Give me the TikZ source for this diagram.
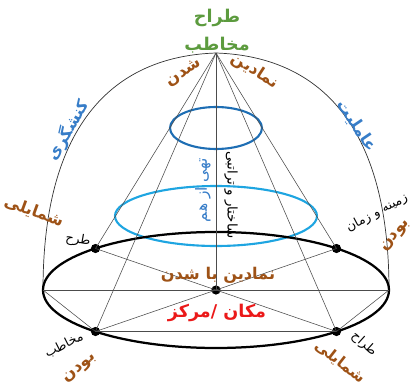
\documentclass[tikz,border=0pt]{standalone}
\usepackage{fontspec}
\usepackage{xcolor}
\usepackage{tikz}
\usetikzlibrary{positioning}
\TeXXeTstate=1
\newfontfamily\farsi[Script=Arabic]{DejaVu Sans}
\definecolor{titlegreen}{RGB}{92,155,62}
\definecolor{rimbrown}{RGB}{158,82,22}
\definecolor{sideblue}{RGB}{55,125,200}
\definecolor{ringdark}{RGB}{30,110,180}
\definecolor{ringlight}{RGB}{30,165,225}
\definecolor{placered}{RGB}{235,25,25}
\tikzstyle{ray} = [draw=black!70, line width=0.4pt]
\tikzstyle{rim} = [draw=black!80, line width=0.5pt]
\tikzstyle{ring} = [line width=1.5pt]
\tikzstyle{base} = [draw=black, line width=1.6pt]
\tikzstyle{dot} = [circle, fill=black, inner sep=0pt, minimum size=2.3mm]
\tikzstyle{bigword} = [inner sep=0pt, font=\farsi\bfseries\fontsize{11.5}{13}\selectfont]
\tikzstyle{smallword} = [inner sep=0pt, text=black, font=\farsi\fontsize{9}{10}\selectfont]

\begin{document}
\begin{tikzpicture}[x=0.025cm, y=-0.025cm]
\useasboundingbox (0,0) rectangle (417,389);

% Apex and rim of the base
\coordinate (apex) at (216,53);
\coordinate (west) at (43,290);
\coordinate (east) at (389,290);

% Dome
\draw [rim] (west) .. controls (43,112) and (124,56) .. (apex) .. controls (308,56) and (389,112) .. (east);

% Rings
\draw [ring, draw=ringdark] (216,128) ellipse [x radius=46, y radius=21];
\draw [ring, draw=ringlight] (216,216) ellipse [x radius=101, y radius=30];
\draw [base] (216,290) ellipse [x radius=173, y radius=58];

% Points on the base
\node (hub) [dot] at (216,290) {};
\node (nw) [dot] at (95.5,248.5) {};
\node (ne) [dot] at (336.5,248.5) {};
\node (sw) [dot] at (95.5,331.5) {};
\node (se) [dot] at (336.5,331.5) {};

% Rays
\draw [ray] (apex) -- (hub.center);
\draw [ray] (apex) -- (nw.center);
\draw [ray] (apex) -- (ne.center);
\draw [ray] (apex) -- (sw.center);
\draw [ray] (apex) -- (se.center);
\draw [ray] (west) -- (hub.center);
\draw [ray] (east) -- (hub.center);
\draw [ray] (west) -- (sw.center);
\draw [ray] (east) -- (se.center);
\draw [ray] (nw.center) -- (hub.center);
\draw [ray] (ne.center) -- (hub.center);
\draw [ray] (sw.center) -- (hub.center);
\draw [ray] (se.center) -- (hub.center);
\draw [ray] (sw.center) -- (se.center);

% Title
\node (title) [bigword, text=titlegreen, align=center, font=\farsi\bfseries\fontsize{12.5}{20}\selectfont] at (217,31) {\beginR طراح\endR\\\beginR مخاطب\endR};

% Along the dome
\node (shodan) [bigword, text=rimbrown, rotate=33] at (184,73) {\beginR شدن\endR};
\node (namadin) [bigword, text=rimbrown, rotate=-33] at (255,71) {\beginR نمادین\endR};
\node (konesh) [bigword, text=sideblue, rotate=59] at (68,130) {\beginR کنشگری\endR};
\node (amel) [bigword, text=sideblue, rotate=-56] at (357,126) {\beginR عاملیت\endR};

% Corner words
\node (shamayeli1) [bigword, text=rimbrown, rotate=-20] at (34,212) {\beginR شمایلی\endR};
\node (tarh1) [smallword, rotate=-10] at (78,240) {\beginR طرح\endR};
\node (zamine) [smallword, rotate=28] at (377,213) {\beginR زمینه و زمان\endR};
\node (budan1) [bigword, text=rimbrown, rotate=50] at (396,236) {\beginR بودن\endR};
\node (mokhatab) [smallword, rotate=27] at (64,345) {\beginR مخاطب\endR};
\node (budan2) [bigword, text=rimbrown, rotate=40] at (80,369) {\beginR بودن\endR};
\node (tarrah) [smallword, rotate=-42] at (364,344) {\beginR طراح\endR};
\node (shamayeli2) [bigword, text=rimbrown, rotate=-38, font=\farsi\bfseries\fontsize{11}{12}\selectfont] at (340,362) {\beginR شمایلی\endR};

% Along the axis
\node (sakhtar) [smallword, rotate=-90, font=\farsi\fontsize{9.5}{10}\selectfont] at (231,195) {\beginR ساختار و تراتبی\endR};
\node (tohi) [bigword, text=sideblue, rotate=90, font=\farsi\fontsize{11}{12}\selectfont] at (203,190) {\beginR تهی از هم\endR};

% Centre of the base
\node (namadinba) [bigword, text=rimbrown] at (218,275) {\beginR نمادین با شدن\endR};
\node (makan) [bigword, text=placered, font=\farsi\bfseries\fontsize{12.5}{14}\selectfont] at (217,313) {\beginR مکان /مرکز\endR};

\end{tikzpicture}
\end{document}
